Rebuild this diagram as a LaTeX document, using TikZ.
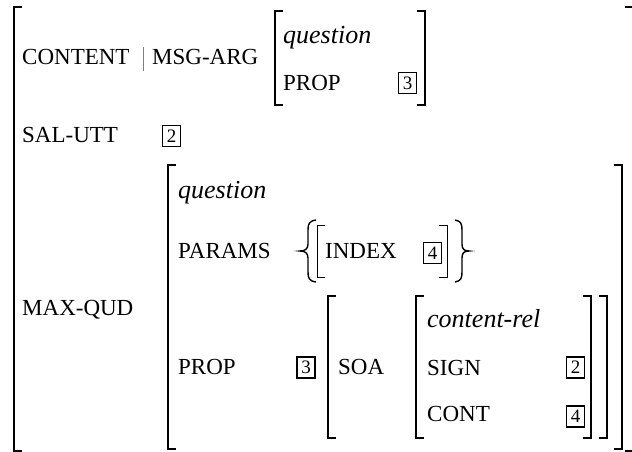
\documentclass[tikz,border=0pt]{standalone}
\usepackage{fontspec}
\setmainfont{Liberation Serif}

\tikzset{
    attr/.style={anchor=base west, inner sep=0pt, font=\fontsize{23}{26}\selectfont},
    sort/.style={anchor=base west, inner sep=0pt, font=\fontsize{26}{30}\selectfont\itshape},
    tag/.style={draw, line width=1.7pt, minimum width=18pt, minimum height=21pt,
            inner sep=0pt, font=\fontsize{19}{21}\selectfont},
    brk/.style={line width=1.6pt, line cap=butt, line join=miter},
    thinbrk/.style={line width=0.9pt, line cap=butt, line join=miter},
}

% left x, right x, top y, bottom y
\newcommand{\avmbrackets}[5][brk]{%
    \draw[#1] (#2+8,#4) -- (#2,#4) -- (#2,#5) -- (#2+8,#5);
    \draw[#1] (#3-8,#4) -- (#3,#4) -- (#3,#5) -- (#3-8,#5);}

\begin{document}
\begin{tikzpicture}[x=1pt, y=-1pt]
        \useasboundingbox (0,0) rectangle (632,452);

        \avmbrackets{14}{633}{7}{451}

        % CONTENT | MSG-ARG
        \node[attr] (content) at (22,65) {CONTENT};
        \draw[gray, line width=1pt] (143,47) -- (143,71);
        \node[attr] (msgarg) at (152,65) {MSG-ARG};
        \avmbrackets{275}{425}{11}{105}
        \node[sort] (msgtype) at (283,44) {question};
        \node[attr] (msgprop) at (283,90) {PROP};
        \node[tag] (tagthreea) at (407.5,83) {3};

        % SAL-UTT
        \node[attr] (salutt) at (22,142) {SAL-UTT};
        \node[tag] (tagtwoa) at (171.5,136) {2};

        % MAX-QUD
        \node[attr] (maxqud) at (22,315) {MAX-QUD};
        \avmbrackets{168}{622}{165}{449}
        \node[sort] (qudtype) at (178,198) {question};
        \node[attr] (params) at (178,258) {PARAMS};
        \draw[line width=1.4pt] (316,220) .. controls (309,221) and (308,224) .. (308,230)
            -- (308,244) .. controls (308,249) and (305,251) .. (300,251)
            .. controls (305,251) and (308,253) .. (308,258)
            -- (308,272) .. controls (308,278) and (309,281) .. (316,282);
        \avmbrackets[thinbrk]{317}{447}{225}{277}
        \node[attr] (index) at (325,258) {INDEX};
        \node[tag] (tagfoura) at (432.5,253) {4};
        \draw[line width=1.4pt] (455,220) .. controls (461,221) and (462,224) .. (462,230)
            -- (462,244) .. controls (462,249) and (464,251) .. (469,251)
            .. controls (464,251) and (462,253) .. (462,258)
            -- (462,272) .. controls (462,278) and (461,281) .. (455,282);
        \node[attr] (qudprop) at (178,374) {PROP};
        \node[tag] (tagthreeb) at (306,367.5) {3};
        \avmbrackets{328}{607}{296}{438}
        \node[attr] (soa) at (338,374) {SOA};
        \avmbrackets{416}{591}{296}{438}
        \node[sort] (reltype) at (427,327) {content-rel};
        \node[attr] (sign) at (427,375) {SIGN};
        \node[tag] (tagtwob) at (575.5,367.5) {2};
        \node[attr] (cont) at (427,421) {CONT};
        \node[tag] (tagfourb) at (575.5,416.5) {4};
\end{tikzpicture}
\end{document}
